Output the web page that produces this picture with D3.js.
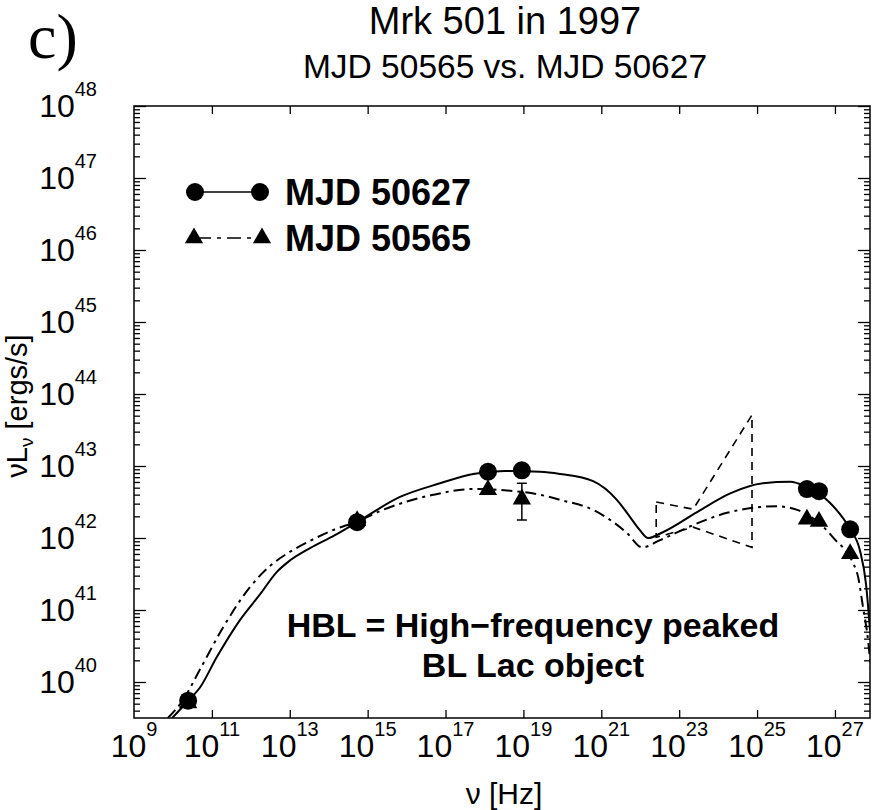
<!DOCTYPE html>
<html>
<head>
<meta charset="utf-8">
<script src="https://cdn.jsdelivr.net/npm/d3@7"></script>
<style>
  body { margin: 0; background: #fff; }
  svg { display: block; }
  text { font-family: "Liberation Sans", Arial, sans-serif; fill: #000; }
</style>
</head>
<body>
<div id="chart"></div>
<script>
// all values are log10(nu [Hz]), log10(nuL_nu [ergs/s])
const solidCurve = [
  [9.98, 39.50], [10.39, 39.74], [10.69, 39.92], [11.13, 40.35], [11.72, 40.86],
  [12.24, 41.22], [12.67, 41.53], [13.01, 41.69], [13.52, 41.86], [14.16, 42.04],
  [14.73, 42.22], [15.83, 42.57], [16.86, 42.76], [17.71, 42.89], [18.53, 42.93],
  [19.43, 42.92], [19.94, 42.89], [20.79, 42.79], [21.40, 42.53], [21.74, 42.29],
  [21.99, 42.11], [22.20, 42.00], [22.58, 42.08], [23.46, 42.36], [24.31, 42.62],
  [25.15, 42.76], [25.85, 42.78], [26.26, 42.71], [26.87, 42.49], [27.39, 42.12],
  [27.64, 41.83], [27.80, 41.35], [27.90, 40.72]
];
const dashDotCurve = [
  [9.87, 39.50], [10.26, 39.75], [10.69, 40.17], [11.29, 40.76], [11.98, 41.32],
  [12.49, 41.61], [13.01, 41.81], [13.52, 41.96], [14.11, 42.11], [14.73, 42.23],
  [15.39, 42.39], [16.68, 42.60], [17.71, 42.68], [18.58, 42.66], [19.43, 42.60],
  [19.94, 42.53], [20.79, 42.39], [21.66, 42.07], [22.05, 41.87], [22.51, 41.97],
  [23.36, 42.18], [24.23, 42.35], [25.08, 42.43], [25.51, 42.44], [26.03, 42.39],
  [26.95, 42.01], [27.57, 41.51], [27.72, 41.04], [27.85, 40.58], [27.93, 40.13]
];
const circlePts = [
  [10.39, 39.74], [14.73, 42.22], [18.09, 42.92], [18.96, 42.94],
  [26.28, 42.68], [26.59, 42.65], [27.39, 42.12]
];
const trianglePts = [
  [10.39, 39.71], [14.73, 42.24], [18.09, 42.67], [18.96, 42.54],
  [26.28, 42.26], [26.59, 42.23], [27.39, 41.78]
];
// [nu, low, high]
const triangleErr = [[18.96, 42.25, 42.76]];
const bowtieUpper = [[22.41, 42.50], [23.36, 42.40], [24.87, 43.71]];
const bowtieLower = [[22.41, 42.01], [23.36, 42.15], [24.87, 41.87]];

const xTickExp = [9, 11, 13, 15, 17, 19, 21, 23, 25, 27];
const yTickExp = [40, 41, 42, 43, 44, 45, 46, 47, 48];
const xDomainExp = [9, 27.9];
const yDomainExp = [39.5, 48];

const W = 872, H = 810;
const plot = { left: 134, right: 870, top: 106, bottom: 718 };
const p10 = e => Math.pow(10, e);

const svg = d3.select("#chart").append("svg").attr("width", W).attr("height", H);
svg.append("rect").attr("width", W).attr("height", H).attr("fill", "#fff");

const x = d3.scaleLog().domain(xDomainExp.map(p10)).range([plot.left, plot.right]);
const y = d3.scaleLog().domain(yDomainExp.map(p10)).range([plot.bottom, plot.top]);

// ticks
const xMajor = xTickExp.filter(e => e > xDomainExp[0]).map(p10);
const yMajor = yTickExp.map(p10);
const yMinor = [];
for (let e = 39; e < 48; e++) {
  for (let k = 2; k <= 9; k++) {
    const v = k * p10(e);
    if (v >= p10(yDomainExp[0]) && v <= p10(yDomainExp[1])) yMinor.push(v);
  }
}

function cleanAxis(g) {
  g.select(".domain").remove();
  g.selectAll(".tick text").remove();
  g.selectAll(".tick line").attr("stroke", "#000").attr("stroke-width", 1.3);
}

svg.append("g").attr("transform", `translate(0,${plot.bottom})`)
  .call(d3.axisBottom(x).tickValues(xMajor).tickSize(-8)).call(cleanAxis);
svg.append("g").attr("transform", `translate(0,${plot.top})`)
  .call(d3.axisTop(x).tickValues(xMajor).tickSize(-8)).call(cleanAxis);
svg.append("g").attr("transform", `translate(${plot.left},0)`)
  .call(d3.axisLeft(y).tickValues(yMajor).tickSize(-12)).call(cleanAxis);
svg.append("g").attr("transform", `translate(${plot.left},0)`)
  .call(d3.axisLeft(y).tickValues(yMinor).tickSize(-6)).call(cleanAxis);
svg.append("g").attr("transform", `translate(${plot.right},0)`)
  .call(d3.axisRight(y).tickValues(yMajor).tickSize(-12)).call(cleanAxis);
svg.append("g").attr("transform", `translate(${plot.right},0)`)
  .call(d3.axisRight(y).tickValues(yMinor).tickSize(-6)).call(cleanAxis);

svg.append("rect")
  .attr("x", plot.left).attr("y", plot.top)
  .attr("width", plot.right - plot.left).attr("height", plot.bottom - plot.top)
  .attr("fill", "none").attr("stroke", "#000").attr("stroke-width", 1.5);

// tick labels 10^n
const xLab = svg.append("g").selectAll("text").data(xTickExp).join("text")
  .attr("x", d => x(p10(d))).attr("y", 757)
  .attr("text-anchor", "middle").attr("font-size", 32);
xLab.append("tspan").text("10");
xLab.append("tspan").attr("dy", -21).attr("font-size", 20).text(d => d);

const yLab = svg.append("g").selectAll("text").data(yTickExp).join("text")
  .attr("x", 97).attr("y", d => y(p10(d)) + 11)
  .attr("text-anchor", "end").attr("font-size", 32);
yLab.append("tspan").text("10");
yLab.append("tspan").attr("dy", -21).attr("font-size", 20).text(d => d);

// axis titles
svg.append("text").attr("x", 504).attr("y", 804).attr("text-anchor", "middle")
  .attr("font-size", 30).text("ν [Hz]");

const yt = svg.append("text")
  .attr("transform", "translate(27,406) rotate(-90)")
  .attr("text-anchor", "middle").attr("font-size", 29);
yt.append("tspan").text("νL");
yt.append("tspan").attr("font-size", 19).attr("dy", 6).text("ν");
yt.append("tspan").attr("dy", -6).text(" [ergs/s]");

// titles
svg.append("text").attr("x", 505).attr("y", 34).attr("text-anchor", "middle")
  .attr("font-size", 38).text("Mrk 501 in 1997");
svg.append("text").attr("x", 505).attr("y", 78).attr("text-anchor", "middle")
  .attr("font-size", 33.5).text("MJD 50565 vs. MJD 50627");
svg.append("text").attr("x", 28).attr("y", 58)
  .style("font-family", "'Liberation Serif', 'Times New Roman', serif")
  .attr("font-size", 64).text("c)");

// plot contents
svg.append("clipPath").attr("id", "clip").append("rect")
  .attr("x", plot.left).attr("y", plot.top)
  .attr("width", plot.right - plot.left).attr("height", plot.bottom - plot.top);

const g = svg.append("g").attr("clip-path", "url(#clip)");

const line = d3.line()
  .x(d => x(p10(d[0]))).y(d => y(p10(d[1])))
  .curve(d3.curveMonotoneX);

g.append("path").datum(dashDotCurve).attr("d", line)
  .attr("fill", "none").attr("stroke", "#000").attr("stroke-width", 2)
  .attr("stroke-dasharray", "11,5,3,5");
g.append("path").datum(solidCurve).attr("d", line)
  .attr("fill", "none").attr("stroke", "#000").attr("stroke-width", 2);

// bowtie
const straight = d3.line().x(d => x(p10(d[0]))).y(d => y(p10(d[1])));
g.append("path")
  .attr("d", straight(bowtieUpper.concat(bowtieLower.slice().reverse())) + "Z")
  .attr("fill", "none").attr("stroke", "#000").attr("stroke-width", 1.6)
  .attr("stroke-dasharray", "8,6");

// error bars
const eb = g.append("g").attr("stroke", "#000").attr("stroke-width", 1.5);
triangleErr.forEach(d => {
  const cx = x(p10(d[0]));
  eb.append("line").attr("x1", cx).attr("x2", cx).attr("y1", y(p10(d[1]))).attr("y2", y(p10(d[2])));
  eb.append("line").attr("x1", cx - 5).attr("x2", cx + 5).attr("y1", y(p10(d[1]))).attr("y2", y(p10(d[1])));
  eb.append("line").attr("x1", cx - 5).attr("x2", cx + 5).attr("y1", y(p10(d[2]))).attr("y2", y(p10(d[2])));
});

const tri = d3.symbol().type(d3.symbolTriangle).size(145);
g.selectAll(".tri").data(trianglePts).join("path").attr("class", "tri")
  .attr("transform", d => `translate(${x(p10(d[0]))},${y(p10(d[1]))})`)
  .attr("d", tri).attr("fill", "#000");
g.selectAll(".circ").data(circlePts).join("circle").attr("class", "circ")
  .attr("cx", d => x(p10(d[0]))).attr("cy", d => y(p10(d[1])))
  .attr("r", 9).attr("fill", "#000");

// legend
const leg = svg.append("g");
leg.append("line").attr("x1", 195).attr("x2", 260).attr("y1", 192).attr("y2", 192)
  .attr("stroke", "#000").attr("stroke-width", 1.6);
[195, 260].forEach(cx => leg.append("circle").attr("cx", cx).attr("cy", 192).attr("r", 9).attr("fill", "#000"));
leg.append("text").attr("x", 285).attr("y", 205).attr("font-size", 36)
  .attr("font-weight", "bold").text("MJD 50627");

leg.append("line").attr("x1", 197).attr("x2", 258).attr("y1", 238).attr("y2", 238)
  .attr("stroke", "#000").attr("stroke-width", 1.6).attr("stroke-dasharray", "14,6,4,6");
[194, 262].forEach(cx => leg.append("path").attr("transform", `translate(${cx},238)`)
  .attr("d", tri).attr("fill", "#000"));
leg.append("text").attr("x", 285).attr("y", 251).attr("font-size", 36)
  .attr("font-weight", "bold").text("MJD 50565");

// annotation
svg.append("text").attr("x", 533).attr("y", 637).attr("text-anchor", "middle")
  .attr("font-size", 34).attr("font-weight", "bold").text("HBL = High\u2212frequency peaked");
svg.append("text").attr("x", 533).attr("y", 677).attr("text-anchor", "middle")
  .attr("font-size", 34).attr("font-weight", "bold").text("BL Lac object");
</script>
</body>
</html>
